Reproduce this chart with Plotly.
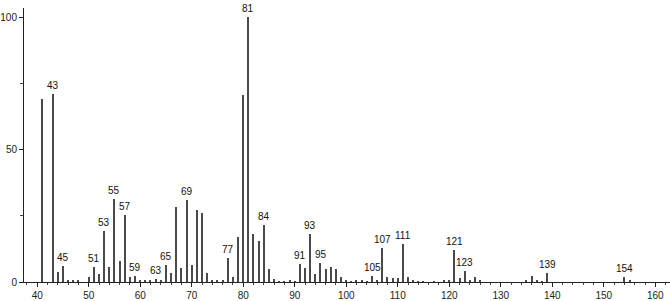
import plotly.graph_objects as go

mz = [41, 43, 44, 45, 46, 47, 48, 50, 51, 52, 53, 54, 55, 56, 57, 58, 59, 60, 61, 62,
      63, 64, 65, 66, 67, 68, 69, 70, 71, 72, 73, 74, 75, 76, 77, 78, 79, 80, 81, 82,
      83, 84, 85, 86, 87, 88, 89, 90, 91, 92, 93, 94, 95, 96, 97, 98, 99, 100, 101, 102,
      103, 104, 105, 106, 107, 108, 109, 110, 111, 112, 113, 114, 115, 117, 119, 120, 121, 122, 123, 124,
      125, 126, 135, 136, 137, 138, 139, 154, 155]
intensity = [69.2, 71.0, 3.7, 6.1, 0.6, 0.5, 0.4, 1.9, 5.6, 2.9, 19.3, 5.5, 31.2, 7.9, 25.3, 1.9, 2.4, 0.5, 0.5, 0.7,
             1.3, 0.5, 6.5, 3.4, 28.4, 5.2, 30.9, 6.4, 27.2, 26.0, 3.4, 0.7, 0.5, 0.4, 9.0, 2.0, 17.0, 70.7, 100.0, 18.3,
             15.6, 21.6, 5.0, 1.1, 0.3, 0.3, 0.5, 0.3, 6.9, 5.2, 18.3, 3.1, 7.1, 5.0, 5.8, 5.0, 1.9, 0.5, 0.3, 0.4,
             0.5, 0.3, 2.3, 0.5, 12.9, 2.0, 1.5, 1.5, 14.5, 1.8, 0.5, 0.3, 0.3, 0.3, 0.4, 0.5, 12.2, 1.5, 4.3, 0.8,
             2.0, 0.5, 0.4, 2.4, 0.6, 0.3, 3.3, 1.8, 0.4]
labeled_peaks = [43, 45, 51, 53, 55, 57, 59, 63, 65, 69, 77, 81, 84, 91, 93, 95, 105, 107, 111, 121, 123, 139, 154]

x_ticks = list(range(40, 161, 10))
y_ticks = [0, 50, 100]

fig = go.Figure()
fig.add_trace(go.Bar(x=mz, y=intensity, width=0.22,
                     marker=dict(color="#4a4a4a", line=dict(width=0)),
                     hoverinfo="x+y"))

lookup = dict(zip(mz, intensity))
for m in labeled_peaks:
    fig.add_annotation(x=m, y=lookup[m], text=str(m), showarrow=False,
                       yanchor="bottom", yshift=1,
                       font=dict(family="Liberation Sans", size=10, color="#111"))

font = dict(family="Liberation Sans", size=10, color="#222")
fig.update_layout(
    width=670, height=301,
    margin=dict(l=22, r=0, t=8, b=18),
    paper_bgcolor="white", plot_bgcolor="white",
    showlegend=False, bargap=0,
    font=font,
    xaxis=dict(range=[37.44, 162.85], tickvals=x_ticks, ticktext=[str(t) for t in x_ticks],
               showgrid=False, zeroline=False, showline=True, linecolor="#222", linewidth=1,
               ticks="outside", ticklen=4, tickcolor="#222", tickfont=font,
               minor=dict(dtick=2, tick0=0, ticks="outside", ticklen=2, tickcolor="#444", showgrid=False)),
    yaxis=dict(range=[0, 103.5], tickvals=y_ticks, ticktext=[str(t) for t in y_ticks],
               showgrid=False, zeroline=False, showline=True, linecolor="#222", linewidth=1,
               ticks="outside", ticklen=4, tickcolor="#222", tickfont=font,
               minor=dict(dtick=25, tick0=0, ticks="outside", ticklen=3, tickcolor="#444", showgrid=False)),
)

fig.write_html("out.html")
